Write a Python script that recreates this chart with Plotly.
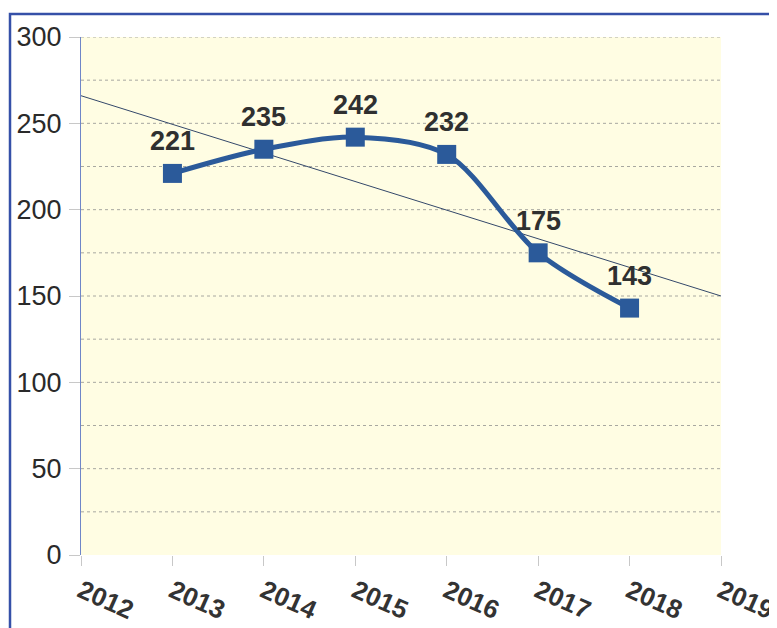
import numpy as np
import plotly.graph_objects as go

years = [2013, 2014, 2015, 2016, 2017, 2018]
values = [221, 235, 242, 232, 175, 143]
tick_years = [2012, 2013, 2014, 2015, 2016, 2017, 2018, 2019]
y_ticks = [0, 50, 100, 150, 200, 250, 300]

# linear trendline fitted to the data, drawn across the full axis span
slope, intercept = np.polyfit(years, values, 1)
trend_x = [tick_years[0], tick_years[-1]]
trend_y = [slope * x + intercept for x in trend_x]

# page body has an 8px margin, so the figure sits at (8, 8) on screen
W, H = 777, 628
L, T = 73, 29
R, B = 64, 81
pw, ph = W - L - R, H - T - B

fig = go.Figure()
fig.add_trace(go.Scatter(x=trend_x, y=trend_y, mode="lines",
                         line=dict(color="#34486a", width=1), hoverinfo="skip",
                         showlegend=False))
fig.add_trace(go.Scatter(x=years, y=values, mode="lines+markers",
                         line=dict(color="#2b5a9a", width=5, shape="spline", smoothing=0.9),
                         marker=dict(symbol="square", size=19, color="#2b5a9a"),
                         showlegend=False, cliponaxis=False))

for x, v in zip(years, values):
    fig.add_annotation(x=x, y=v, text=f"<b>{v}</b>", showarrow=False,
                       yshift=32, yanchor="middle", xanchor="center",
                       font=dict(family="Liberation Sans", size=27, color="#2f3030"))

grid_vals = list(range(25, 301, 25))
for g in grid_vals:
    fig.add_shape(type="line", xref="x", yref="y", x0=2012, x1=2019, y0=g, y1=g,
                  line=dict(color="#a8a8a0", width=1, dash="dot"), layer="below")

# outer blue frame
fig.add_shape(type="rect", xref="paper", yref="paper",
              x0=(2 - L) / pw, x1=(800 - L) / pw,
              y0=(H - B - 660) / ph, y1=(H - B - 6) / ph,
              line=dict(color="#3550a8", width=2.5), fillcolor="rgba(0,0,0,0)")

fig.update_layout(
    width=W, height=H,
    margin=dict(l=L, r=R, t=T, b=B),
    paper_bgcolor="white", plot_bgcolor="#fffde3",
    font=dict(family="Liberation Sans", color="#2a2a2a"),
    xaxis=dict(range=[2012, 2019], tickvals=tick_years, ticktext=[f"<b>{y}</b>" for y in tick_years],
               tickangle=24, tickfont=dict(size=26, color="#333333"), automargin=False,
               showgrid=False, zeroline=False, showline=False,
               ticks="outside", ticklen=10, tickcolor="#c8c8c8", tickwidth=1),
    yaxis=dict(range=[0, 300], tickvals=y_ticks, tickfont=dict(size=27, color="#2a2a2a"),
               automargin=False, ticklabelstandoff=2,
               showgrid=False, zeroline=False, showline=True, linecolor="#6f86c8", linewidth=1,
               ticks="outside", ticklen=11, tickcolor="#c8c8c8", tickwidth=1),
)

fig.write_html("out.html")
